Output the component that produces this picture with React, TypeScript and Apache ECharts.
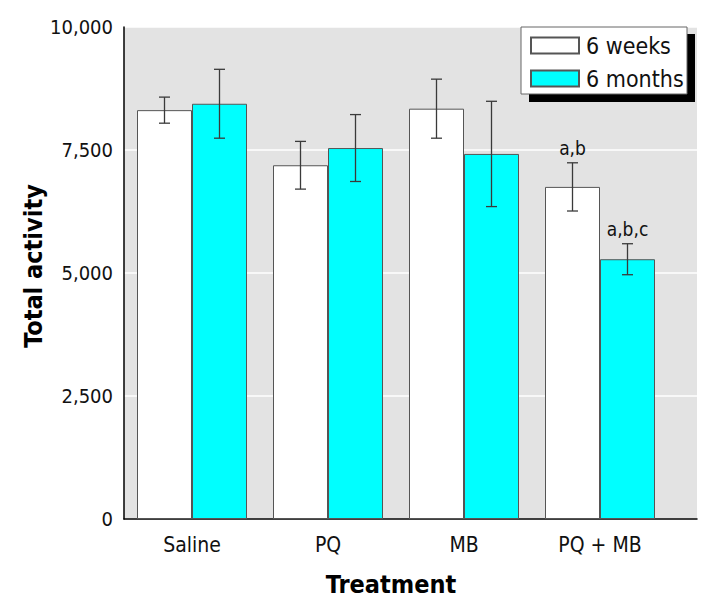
import React, { useEffect, useRef } from "react";
import * as echarts from "echarts";

const categories = ["Saline", "PQ", "MB", "PQ + MB"];
const seriesNames = ["6 weeks", "6 months"];
const weeksMean = [8310, 7190, 8340, 6750];
const weeksErr = [265, 485, 600, 490];
const monthsMean = [8440, 7540, 7420, 5280];
const monthsErr = [700, 680, 1070, 315];
const weeksNotes = ["", "", "", "a,b"];
const monthsNotes = ["", "", "", "a,b,c"];
const yTicks = [0, 2500, 5000, 7500, 10000];

const FONT = "'DejaVu Sans Condensed', 'Liberation Sans Narrow', 'Roboto', sans-serif";
const BAR_W = 55;

function errSeries(means: number[], errs: number[], notes: string[], offset: number) {
  return {
    type: "custom",
    xAxisIndex: 1,
    yAxisIndex: 1,
    z: 5,
    silent: true,
    data: means.map((m, i) => [i, m - errs[i], m + errs[i], notes[i]]),
    renderItem: (params: any, api: any) => {
      const lo = api.coord([api.value(0), api.value(1)]);
      const hi = api.coord([api.value(0), api.value(2)]);
      const x = lo[0] + offset;
      const cap = 5.5;
      const style = { stroke: "#3a3a3a", lineWidth: 1.3 };
      const children: any[] = [
        { type: "line", shape: { x1: x, y1: lo[1], x2: x, y2: hi[1] }, style },
        { type: "line", shape: { x1: x - cap, y1: lo[1], x2: x + cap, y2: lo[1] }, style },
        { type: "line", shape: { x1: x - cap, y1: hi[1], x2: x + cap, y2: hi[1] }, style },
      ];
      const note = notes[params.dataIndex];
      if (note) {
        children.push({
          type: "text",
          x: x,
          y: hi[1] - 5,
          style: {
            text: note,
            fill: "#111",
            font: `19px ${FONT}`,
            textAlign: "center",
            textVerticalAlign: "bottom",
          },
        });
      }
      return { type: "group", children };
    },
  };
}

export default function App() {
  const ref = useRef<HTMLDivElement>(null);
  useEffect(() => {
    if (!ref.current) return;
    const chart = echarts.init(ref.current, null, { renderer: "svg" });
    chart.setOption({
      animation: false,
      textStyle: { fontFamily: FONT },
      grid: [
        {
          left: 124, top: 27, width: 573, height: 492,
          show: true, backgroundColor: "#e3e3e3", borderWidth: 0, containLabel: false,
        },
        { left: 124, top: 27, width: 544, height: 492, containLabel: false },
      ],
      xAxis: [
        {
          type: "value", gridIndex: 0, min: 0, max: 1,
          axisLine: { show: true, lineStyle: { color: "#000", width: 1.5 } },
          axisTick: { show: false }, axisLabel: { show: false }, splitLine: { show: false },
        },
        {
          type: "category", gridIndex: 1, data: categories,
          axisLine: { show: false }, axisTick: { show: false },
          axisLabel: { fontSize: 21, color: "#111", margin: 15, fontFamily: FONT },
        },
      ],
      yAxis: [
        {
          type: "value", gridIndex: 0, min: 0, max: 10000, interval: 2500,
          axisLine: { show: true, lineStyle: { color: "#000", width: 1.5 } },
          axisTick: { show: false },
          axisLabel: {
            fontSize: 20, color: "#111", margin: 11, fontFamily: FONT,
            formatter: (v: number) => (yTicks.includes(v) ? v.toLocaleString("en-US") : ""),
          },
          splitLine: { show: true, lineStyle: { color: "#ffffff", width: 1.5 } },
        },
        {
          type: "value", gridIndex: 1, min: 0, max: 10000, show: false,
        },
      ],
      legend: {
        orient: "vertical",
        left: 525,
        top: 29,
        itemWidth: 48,
        itemHeight: 16,
        itemGap: 10,
        icon: "rect",
        textStyle: { fontSize: 23, lineHeight: 23, color: "#111", fontFamily: FONT, padding: [0, 0, 0, 2] },
        data: seriesNames,
        z: 20,
      },
      graphic: [
        { type: "rect", shape: { x: 529, y: 34, width: 166, height: 68 }, style: { fill: "#000" }, z: 10 },
        {
          type: "rect", shape: { x: 521, y: 27, width: 166, height: 67 },
          style: { fill: "#fff", stroke: "#666", lineWidth: 1 }, z: 11,
        },
        {
          type: "text", x: 33, y: 266, rotation: Math.PI / 2,
          style: {
            text: "Total activity", font: `bold 25px ${FONT}`, fill: "#000",
            textAlign: "center", textVerticalAlign: "middle",
          },
        },
        {
          type: "text", x: 391, y: 584,
          style: {
            text: "Treatment", font: `bold 25px ${FONT}`, fill: "#000",
            textAlign: "center", textVerticalAlign: "middle",
          },
        },
      ],
      series: [
        {
          name: seriesNames[0], type: "bar", xAxisIndex: 1, yAxisIndex: 1,
          barWidth: BAR_W, barGap: "0%", data: weeksMean,
          itemStyle: { color: "#ffffff", borderColor: "#555", borderWidth: 1 },
        },
        {
          name: seriesNames[1], type: "bar", xAxisIndex: 1, yAxisIndex: 1,
          barWidth: BAR_W, barGap: "0%", data: monthsMean,
          itemStyle: { color: "#00ffff", borderColor: "#555", borderWidth: 1 },
        },
        errSeries(weeksMean, weeksErr, weeksNotes, -BAR_W / 2),
        errSeries(monthsMean, monthsErr, monthsNotes, BAR_W / 2),
      ],
    });
    return () => chart.dispose();
  }, []);
  return (
    <div style={{ position: "absolute", left: 0, top: 0, width: 716, height: 607, background: "#fff" }}>
      <div ref={ref} style={{ width: 716, height: 607 }} />
    </div>
  );
}
